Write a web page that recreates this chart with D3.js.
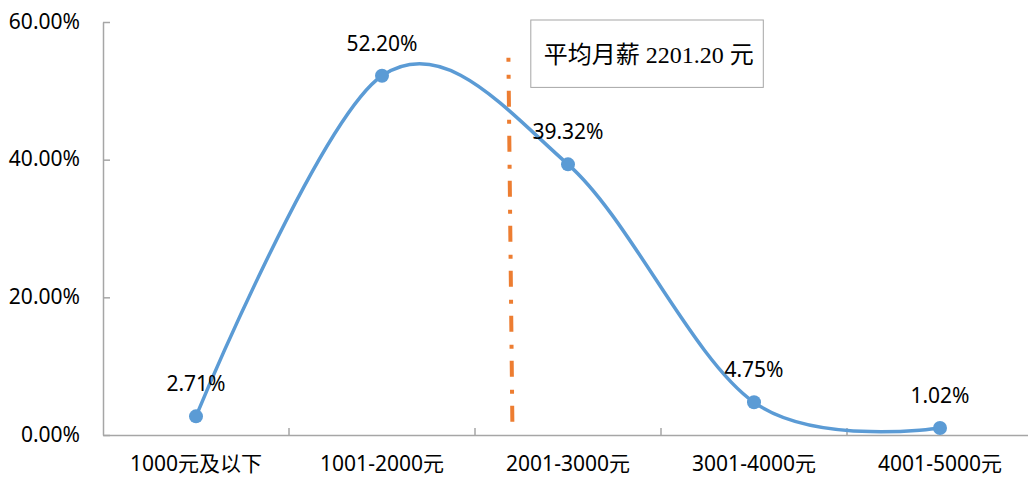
<!DOCTYPE html>
<html lang="zh">
<head>
<meta charset="UTF-8">
<title>月薪分布</title>
<style>
  body { margin: 0; background: #fff; }
  svg { display: block; }
  .tick text, .lbl { font-family: "Noto Sans", "Noto Sans CJK SC", sans-serif; font-size: 21px; fill: #000; }
  .note { font-family: "Liberation Serif", "Noto Sans CJK SC", serif; font-size: 24px; fill: #000; }
</style>
</head>
<body>
<div id="chart"></div>
<script src="https://d3js.org/d3.v7.min.js"></script>
<script>
// data
const categories = ["1000元及以下", "1001-2000元", "2001-3000元", "3001-4000元", "4001-5000元"];
const shares = [0.0271, 0.5220, 0.3932, 0.0475, 0.0102];
const yTicks = [0, 0.2, 0.4, 0.6];
const meanSalary = 2201.20;
const noteText = "平均月薪 2201.20 元";

const width = 1028, height = 477;
const plotLeft = 103, plotRight = 1033, plotTop = 22, plotBottom = 435;

const svg = d3.select("#chart").append("svg")
  .attr("width", width)
  .attr("height", height);

const x = d3.scaleBand().domain(categories).range([plotLeft, plotRight]);
const xs = d3.scaleLinear().domain([0, 5000]).range([plotLeft, plotRight]); // salary scale
const y = d3.scaleLinear().domain([0, 0.6]).range([plotBottom, plotTop]);

// y axis, ticks inside
const yAxis = svg.append("g")
  .attr("transform", `translate(${plotLeft},0)`)
  .call(d3.axisLeft(y).tickValues(yTicks).tickFormat(d3.format(".2%"))
    .tickSize(-7).tickSizeOuter(0).tickPadding(23));
yAxis.select(".domain").attr("stroke", "#a6a6a6").attr("stroke-width", 1.5);
yAxis.selectAll(".tick line").attr("stroke", "#a6a6a6").attr("stroke-width", 1.5);
yAxis.selectAll(".tick text").attr("dy", "0.3em");

// x axis
const xAxis = svg.append("g")
  .attr("transform", `translate(0,${plotBottom})`)
  .call(d3.axisBottom(x).tickSize(0).tickSizeOuter(0).tickPadding(21));
xAxis.select(".domain").attr("stroke", "#a6a6a6").attr("stroke-width", 1.5);
xAxis.selectAll(".tick line").remove();

// category boundary ticks
svg.append("g").selectAll("line")
  .data(categories.slice(1))
  .enter().append("line")
  .attr("x1", d => x(d)).attr("x2", d => x(d))
  .attr("y1", plotBottom).attr("y2", plotBottom - 7)
  .attr("stroke", "#a6a6a6").attr("stroke-width", 1.5);

// mean salary line
svg.append("line")
  .attr("x1", xs(meanSalary) - 4).attr("x2", xs(meanSalary))
  .attr("y1", y(0.548)).attr("y2", y(0.01))
  .attr("stroke", "#ed7d31")
  .attr("stroke-width", 4)
  .attr("stroke-dasharray", "16,13,4,12")
  .attr("stroke-dashoffset", 12);

// smooth line
const pts = categories.map((c, i) => ({ c, v: shares[i] }));
const line = d3.line()
  .x(d => x(d.c) + x.bandwidth() / 2)
  .y(d => y(d.v))
  .curve(d3.curveCardinal.tension(0));

svg.append("path")
  .datum(pts)
  .attr("d", line)
  .attr("fill", "none")
  .attr("stroke", "#5b9bd5")
  .attr("stroke-width", 3.5);

svg.append("g").selectAll("circle")
  .data(pts)
  .enter().append("circle")
  .attr("cx", d => x(d.c) + x.bandwidth() / 2)
  .attr("cy", d => y(d.v))
  .attr("r", 7)
  .attr("fill", "#5b9bd5");

svg.append("g").selectAll("text")
  .data(pts)
  .enter().append("text")
  .attr("class", "lbl")
  .attr("x", d => x(d.c) + x.bandwidth() / 2)
  .attr("y", d => y(d.v) - 25)
  .attr("text-anchor", "middle")
  .text(d => d3.format(".2%")(d.v));

// note box
const bx0 = xs(2300), bx1 = xs(3550), by0 = y(0.6) - 2, by1 = y(0.505);
svg.append("rect")
  .attr("x", bx0).attr("y", by0)
  .attr("width", bx1 - bx0).attr("height", by1 - by0)
  .attr("fill", "#fff")
  .attr("stroke", "#a6a6a6")
  .attr("stroke-width", 1);

svg.append("text")
  .attr("class", "note")
  .attr("x", bx0 + 13)
  .attr("y", by0 + 43)
  .text(noteText);
</script>
</body>
</html>
